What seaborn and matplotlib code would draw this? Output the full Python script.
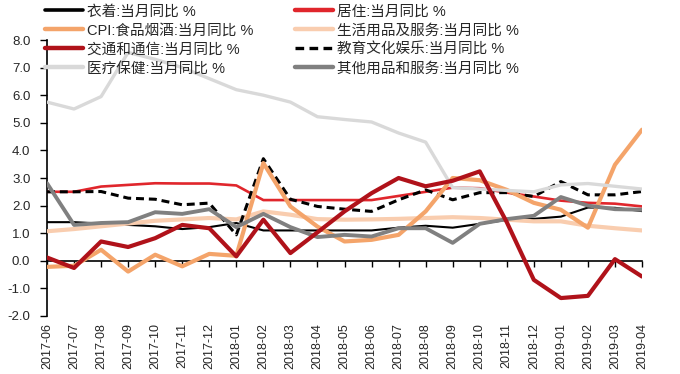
# CPI sub-items, year-on-year (%), 2017-06 .. 2019-04
import numpy as np
import pandas as pd
import matplotlib
matplotlib.use('Agg')
import matplotlib.pyplot as plt
from matplotlib.lines import Line2D
import seaborn as sns

months = ['2017-06', '2017-07', '2017-08', '2017-09', '2017-10', '2017-11', '2017-12',
          '2018-01', '2018-02', '2018-03', '2018-04', '2018-05', '2018-06', '2018-07',
          '2018-08', '2018-09', '2018-10', '2018-11', '2018-12', '2019-01', '2019-02',
          '2019-03', '2019-04']

clothing = [1.4, 1.4, 1.35, 1.3, 1.25, 1.15, 1.22, 1.37, 1.1, 1.1, 1.1, 1.1, 1.1, 1.2,
            1.27, 1.2, 1.34, 1.48, 1.52, 1.6, 1.93, 1.92, 1.8]
housing = [2.5, 2.5, 2.69, 2.75, 2.81, 2.8, 2.8, 2.73, 2.2, 2.2, 2.2, 2.2, 2.2, 2.35,
           2.5, 2.65, 2.63, 2.47, 2.33, 2.18, 2.1, 2.07, 1.97]
food = [-0.22, -0.18, 0.4, -0.39, 0.22, -0.2, 0.25, 0.18, 3.54, 1.97, 1.24, 0.7, 0.76,
        0.94, 1.79, 3.0, 2.92, 2.57, 2.1, 1.85, 1.2, 3.48, 4.75]
household = [1.07, 1.15, 1.25, 1.35, 1.45, 1.5, 1.55, 1.5, 1.79, 1.67, 1.51, 1.49, 1.5,
             1.52, 1.55, 1.58, 1.55, 1.49, 1.43, 1.43, 1.27, 1.18, 1.1]
transport = [0.12, -0.26, 0.7, 0.5, 0.82, 1.3, 1.18, 0.16, 1.49, 0.28, 1.03, 1.79, 2.45,
             3.0, 2.7, 2.9, 3.24, 1.4, -0.69, -1.35, -1.27, 0.06, -0.57]
education = [2.5, 2.5, 2.51, 2.27, 2.23, 2.03, 2.09, 0.94, 3.7, 2.23, 1.97, 1.87, 1.79,
             2.21, 2.57, 2.21, 2.47, 2.47, 2.33, 2.87, 2.39, 2.39, 2.51]
medical = [5.75, 5.5, 5.95, 7.55, 7.3, 7.0, 6.6, 6.2, 6.0, 5.75, 5.22, 5.12, 5.03, 4.63,
           4.3, 2.65, 2.6, 2.55, 2.5, 2.75, 2.8, 2.7, 2.6]
other = [2.81, 1.3, 1.37, 1.4, 1.76, 1.7, 1.87, 1.22, 1.7, 1.22, 0.86, 0.94, 0.88, 1.18,
         1.18, 0.65, 1.34, 1.51, 1.63, 2.31, 2.0, 1.87, 1.85]

labels = ['衣着:当月同比 %', '居住:当月同比 %', 'CPI:食品烟酒:当月同比 %',
          '生活用品及服务:当月同比 %', '交通和通信:当月同比 %', '教育文化娱乐:当月同比 %',
          '医疗保健:当月同比 %', '其他用品和服务:当月同比 %']

sns.set_style('white')
plt.rcParams['font.family'] = ['Liberation Sans', 'Noto Sans CJK SC']

fig = plt.figure(figsize=(6.8, 3.74), dpi=100)
ax = fig.add_axes([47 / 680, 1 - 316 / 374, 595 / 680, 276 / 374])

x = np.arange(len(months))
series = [clothing, housing, food, household, transport, education, medical, other]
colors = ['#000000', '#E0262C', '#F4A46A', '#F9CDAF', '#B0121A', '#000000', '#D9D9D9', '#808080']
widths = [1.5, 1.9, 3.0, 3.0, 3.0, 2.2, 2.4, 2.8]
styles = ['-', '-', '-', '-', '-', (0, (2.6, 1.6)), '-', '-']
order = [0, 1, 3, 5, 2, 6, 7, 4]  # drawing order

for i in order:
    df = pd.DataFrame({'x': x, 'y': series[i]})
    sns.lineplot(data=df, x='x', y='y', ax=ax, color=colors[i], linewidth=widths[i],
                 linestyle=styles[i], zorder=3 + order.index(i))

ax.set_xlim(0, 22)
ax.set_ylim(-2, 8)
ax.set_yticks(np.arange(-2, 9, 1))
ax.set_yticklabels([f'{v:.1f}' for v in np.arange(-2, 9, 1)], fontsize=9.5)
ax.set_xlabel('')
ax.set_ylabel('')

for s in ['top', 'right']:
    ax.spines[s].set_visible(False)
ax.spines['left'].set_color('black')
ax.spines['left'].set_linewidth(1.2)
ax.spines['bottom'].set_position(('data', 0))
ax.spines['bottom'].set_color('black')
ax.spines['bottom'].set_linewidth(1.2)
ax.spines['bottom'].set_zorder(2)
ax.set_xticks(x)
ax.tick_params(axis='x', direction='out', length=4, width=1, color='black', labelbottom=False, bottom=True)
ax.tick_params(axis='y', direction='out', length=5, width=1, color='black', left=True, pad=7)

sec = ax.secondary_xaxis(0.0)
sec.set_xticks(x)
sec.set_xticklabels(months, rotation=90, fontsize=9)
sec.tick_params(length=0, pad=5)
sec.spines['bottom'].set_visible(False)

# legend in two columns, split manually
def handle(i, lw):
    return Line2D([], [], color=colors[i], linewidth=lw, linestyle=styles[i])

left_items = [0, 2, 4, 6]
right_items = [1, 3, 5, 7]
kw = dict(loc='upper left', frameon=False, borderaxespad=0, borderpad=0, fontsize=10.5,
          handlelength=2.6, handletextpad=0.3, labelspacing=0.34)
leg1 = fig.legend([handle(i, 3.2 if i != 0 else 2.6) for i in left_items],
                  [labels[i] for i in left_items], bbox_to_anchor=(45 / 680, 1 - 4.5 / 374), **kw)
leg2 = fig.legend([handle(i, 3.2 if i != 5 else 2.4) for i in right_items],
                  [labels[i] for i in right_items], bbox_to_anchor=(295 / 680, 1 - 4.5 / 374), **kw)

fig.savefig('out.png', dpi=100)
